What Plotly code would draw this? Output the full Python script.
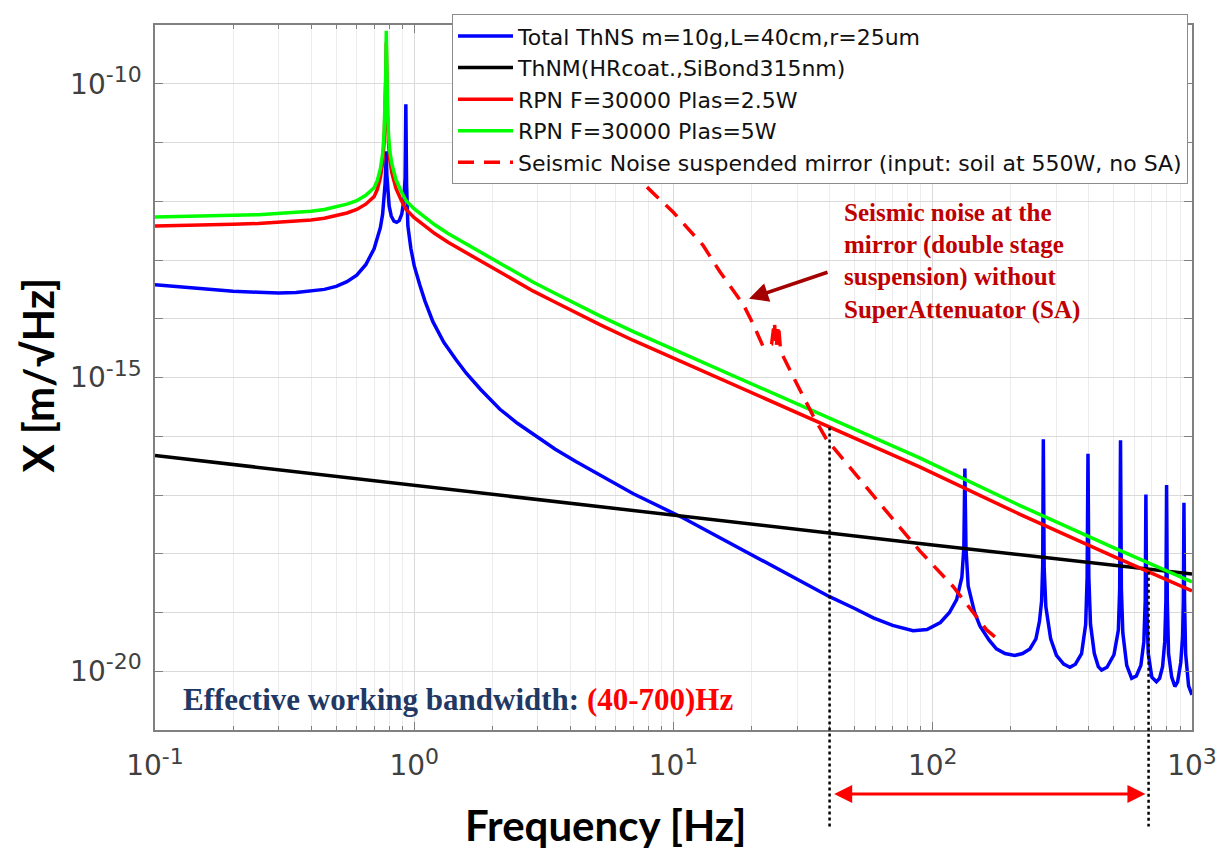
import numpy as np
import plotly.graph_objects as go

# ---------------- data ----------------
freq_total = [0.1, 0.13, 0.16, 0.2, 0.25, 0.3, 0.35, 0.4, 0.45, 0.5, 0.55, 0.6, 0.65, 0.7, 0.72, 0.74,
              0.755, 0.765, 0.772, 0.777, 0.78, 0.784, 0.79, 0.80, 0.815, 0.835, 0.855, 0.875, 0.895,
              0.912, 0.922, 0.928, 0.934, 0.945, 0.97, 1.0, 1.05, 1.1, 1.18, 1.3, 1.45, 1.59, 1.8,
              2.14, 2.5, 2.88, 3.5, 4.2, 5.2, 7, 10.9, 15, 19.7, 28, 40, 50, 59, 70, 84, 95, 107, 116,
              123.6, 129.5, 131.8, 133, 134.3, 137, 145, 152, 165, 176, 190, 207, 222, 237, 250, 258,
              263, 265.5, 267, 269, 273, 285, 300, 320, 338, 355, 375, 389, 394, 397, 400, 406, 420,
              435, 448, 470, 500, 520, 526, 530, 534, 541, 560, 585, 610, 635, 652, 660, 664, 668, 678,
              700, 729, 750, 770, 785, 793, 798, 803, 812, 835, 859, 880, 905, 920, 926, 931, 936, 945,
              970, 1000]
x_total = [3.80e-14, 3.47e-14, 3.16e-14, 2.95e-14, 2.82e-14, 2.75e-14, 2.79e-14, 2.95e-14, 3.16e-14,
           3.55e-14, 4.27e-14, 5.50e-14, 8.32e-14, 1.55e-13, 2.24e-13, 3.55e-13, 6.03e-13, 1.05e-12,
           2.00e-12, 3.98e-12, 7.08e-12, 2.82e-12, 1.41e-12, 8.32e-13, 5.62e-13, 4.57e-13, 4.37e-13,
           4.68e-13, 6.03e-13, 1.05e-12, 2.51e-12, 4.47e-11, 2.00e-12, 3.80e-13, 1.58e-13, 7.94e-14,
           3.80e-14, 2.00e-14, 8.91e-15, 3.98e-15, 2.00e-15, 1.17e-15, 6.31e-16, 2.88e-16, 1.66e-16,
           1.10e-16, 6.03e-17, 3.72e-17, 2.19e-17, 1.05e-17, 4.07e-18, 1.91e-18, 1.00e-18, 4.27e-19,
           1.86e-19, 1.17e-19, 8.13e-20, 6.03e-20, 4.90e-20, 5.13e-20, 6.76e-20, 1.00e-19,
           1.66e-19, 3.98e-19, 1.26e-18, 2.82e-17, 1.26e-18, 2.82e-19, 1.00e-19, 5.89e-20, 3.39e-20,
           2.40e-20, 2.00e-20, 1.86e-20, 2.00e-20, 2.40e-20, 3.55e-20, 7.08e-20,
           1.58e-19, 6.31e-19, 8.91e-17, 5.62e-19, 1.26e-19, 3.55e-20, 1.86e-20, 1.32e-20, 1.17e-20,
           1.32e-20, 2.00e-20, 6.31e-20, 3.98e-19, 5.01e-17, 3.98e-19, 6.31e-20, 2.00e-20,
           1.20e-20, 1.05e-20, 1.17e-20, 1.91e-20, 5.01e-20, 2.51e-19, 8.51e-17, 2.51e-19, 4.47e-20,
           1.26e-20, 7.59e-21, 8.32e-21, 1.26e-20, 3.16e-20, 1.58e-19, 1.02e-17, 1.58e-19, 2.00e-20,
           7.94e-21, 6.61e-21, 7.59e-21, 1.20e-20, 3.16e-20, 1.58e-19, 1.48e-17, 1.58e-19, 2.00e-20,
           7.94e-21, 5.50e-21, 6.61e-21, 1.41e-20, 3.98e-20, 1.58e-19, 7.41e-18, 1.58e-19, 2.00e-20,
           5.62e-21, 3.98e-21]

freq_thnm = [0.1, 1, 10, 100, 1000]
x_thnm = [4.7e-17, 1.45e-17, 4.6e-18, 1.41e-18, 4.5e-19]

freq_rpn = [0.1, 0.15, 0.2, 0.25, 0.3, 0.35, 0.4, 0.45, 0.5, 0.55, 0.6, 0.65, 0.7, 0.72, 0.74, 0.755,
            0.765, 0.772, 0.777, 0.78, 0.783, 0.788, 0.795, 0.805, 0.82, 0.85, 0.89, 0.93, 1.0, 1.1,
            1.2, 1.35, 1.59, 1.8, 2.14, 2.5, 2.88, 3.5, 4.2, 5.2, 7, 9.4, 14, 20, 40, 89, 217, 500, 1000]
x_rpn_25 = [3.80e-13, 3.89e-13, 4.07e-13, 4.17e-13, 4.37e-13, 4.57e-13, 4.79e-13, 5.13e-13, 5.62e-13,
            6.31e-13, 7.24e-13, 8.91e-13, 1.20e-12, 1.58e-12, 2.51e-12, 4.47e-12, 1.00e-11, 3.16e-11,
            1.26e-10, 5.01e-10, 1.26e-10, 3.16e-11, 1.00e-11, 5.01e-12, 3.02e-12, 1.66e-12, 1.05e-12,
            7.24e-13, 5.25e-13, 3.72e-13, 2.82e-13, 2.00e-13, 1.32e-13, 9.55e-14, 6.31e-14, 4.17e-14,
            2.95e-14, 1.91e-14, 1.26e-14, 7.94e-15, 4.27e-15, 2.40e-15, 1.10e-15, 5.62e-16, 1.41e-16,
            3.02e-17, 4.68e-18, 8.91e-19, 2.34e-19]
x_rpn_5 = [5.37e-13, 5.50e-13, 5.75e-13, 5.89e-13, 6.17e-13, 6.46e-13, 6.76e-13, 7.24e-13, 7.94e-13,
           8.91e-13, 1.02e-12, 1.26e-12, 1.70e-12, 2.24e-12, 3.55e-12, 6.31e-12, 1.41e-11, 4.47e-11,
           1.78e-10, 7.94e-10, 1.78e-10, 4.47e-11, 1.41e-11, 7.08e-12, 4.27e-12, 2.34e-12, 1.48e-12,
           1.02e-12, 7.41e-13, 5.25e-13, 3.98e-13, 2.82e-13, 1.86e-13, 1.35e-13, 8.91e-14, 5.89e-14,
           4.17e-14, 2.69e-14, 1.78e-14, 1.12e-14, 6.03e-15, 3.39e-15, 1.55e-15, 7.94e-16, 2.00e-16,
           4.27e-17, 6.61e-18, 1.26e-18, 3.31e-19]

freq_seis = [7.9, 8.11, 9.98, 13.0, 15.1, 18.6, 20.3, 22.2, 23.9, 24.5, 24.9, 25.4, 25.9, 29.0,
             31.6, 34.6, 38.9, 49.3, 66.4, 89.1, 120, 161, 184]
x_seis = [1.74e-12, 1.55e-12, 6.5e-13, 1.78e-13, 6.3e-14, 1.74e-14, 8.1e-15, 3.3e-15, 3.7e-15,
          8.9e-15, 3.2e-15, 7.9e-15, 2.8e-15, 1.02e-15, 4.8e-16, 2.2e-16, 8.9e-17, 2.5e-17,
          5.2e-18, 1.12e-18, 2.75e-19, 5.1e-20, 3.1e-20]

names = ["Total ThNS m=10g,L=40cm,r=25um", "ThNM(HRcoat.,SiBond315nm)",
         "RPN F=30000 Plas=2.5W", "RPN F=30000 Plas=5W",
         "Seismic Noise suspended mirror (input: soil at 550W, no SA)"]

band_lo, band_hi = 40, 680

xtick_vals = [0.1, 1, 10, 100, 1000]
xtick_exp = ["-1", "0", "1", "2", "3"]
ytick_vals = [1e-20, 1e-15, 1e-10]
ytick_exp = ["-20", "-15", "-10"]

# ---------------- figure ----------------
# page body has an 8px margin, so the figure is placed at (8, 8) in the window
W, H = 1221, 845
L_, R_, T_, B_ = 147, 37, 6, 123
PW, PH = W - L_ - R_, H - T_ - B_


def px(xs):  # window pixel -> paper
    return (xs - 8 - L_) / PW


def py(ys):
    return (H - B_ - (ys - 8)) / PH


YMIN, YMAX = -21, -9


def ylog_to_paper(v):
    return (np.log10(v) - YMIN) / (YMAX - YMIN)


def xlog_to_paper(f):
    return (np.log10(f) + 1) / 4


def sup_label(e, size):
    return "10<sup><span style='font-size:%dpx'>%s</span></sup>" % (size, e)


fig = go.Figure()
fig.add_trace(go.Scatter(x=freq_total, y=x_total, mode="lines", name=names[0],
                         line=dict(color="#0000FF", width=3.5)))
fig.add_trace(go.Scatter(x=freq_thnm, y=x_thnm, mode="lines", name=names[1],
                         line=dict(color="#000000", width=3.5)))
fig.add_trace(go.Scatter(x=freq_rpn, y=x_rpn_25, mode="lines", name=names[2],
                         line=dict(color="#FF0000", width=3.5)))
fig.add_trace(go.Scatter(x=freq_rpn, y=x_rpn_5, mode="lines", name=names[3],
                         line=dict(color="#00FF00", width=3.5)))
fig.add_trace(go.Scatter(x=freq_seis, y=x_seis, mode="lines", name=names[4],
                         line=dict(color="#FF0000", width=3.5, dash="16px,10px")))

tickfont = dict(family="DejaVu Sans, Liberation Sans", size=28, color="#404040")
axcol = "#808080"

xminor = [m * 10.0 ** e for e in range(-1, 3) for m in range(2, 10)]
yminor = [10.0 ** e for e in range(-21, -8) if e not in (-20, -15, -10)]

fig.update_xaxes(type="log", range=[-1, 3], tickmode="array", tickvals=xtick_vals,
                 ticktext=[sup_label(e, 22) for e in xtick_exp],
                 ticks="inside", ticklen=8, tickwidth=1, tickcolor=axcol, showline=True, linecolor=axcol,
                 linewidth=1.5, mirror="allticks", showgrid=True, gridcolor="#dadada", gridwidth=1,
                 zeroline=False, tickfont=tickfont, ticklabelstandoff=10,
                 minor=dict(tickmode="array", tickvals=xminor, ticks="inside", ticklen=4,
                            tickcolor=axcol, showgrid=True, gridcolor="#ececec", gridwidth=1))
fig.update_yaxes(type="log", range=[YMIN, YMAX], tickmode="array", tickvals=ytick_vals,
                 ticktext=[sup_label(e, 22) for e in ytick_exp],
                 ticks="inside", ticklen=8, tickwidth=1, tickcolor=axcol, showline=True, linecolor=axcol,
                 linewidth=1.5, mirror="allticks", showgrid=True, gridcolor="#dadada", gridwidth=1,
                 zeroline=False, tickfont=tickfont, ticklabelstandoff=6,
                 minor=dict(tickmode="array", tickvals=yminor, ticks="inside", ticklen=8,
                            tickcolor=axcol, showgrid=True, gridcolor="#dadada", gridwidth=1))

# dotted band limits, tops taken from the RPN 2.5 W curve
lf = np.log10(freq_rpn)
lv = np.log10(x_rpn_25)
top_lo = 10 ** np.interp(np.log10(band_lo), lf, lv)
top_hi = 10 ** np.interp(np.log10(band_hi), lf, lv)
for f, top in ((band_lo, top_lo), (band_hi, top_hi)):
    fig.add_shape(type="line", xref="paper", yref="paper", x0=xlog_to_paper(f), x1=xlog_to_paper(f),
                  y0=ylog_to_paper(top), y1=py(828), line=dict(color="black", width=2.5, dash="dot"))

annotations = []
# double arrow for band
annotations.append(dict(xref="paper", yref="paper", x=xlog_to_paper(band_hi) - 0.003, y=py(795), text="",
                        showarrow=True, axref="pixel", ayref="pixel",
                        ax=-(xlog_to_paper(band_hi) - xlog_to_paper(band_lo) - 0.006) * PW, ay=0,
                        arrowside="end+start", arrowhead=2, arrowsize=1.2, arrowwidth=3, arrowcolor="#FF0000"))
# seismic arrow
annotations.append(dict(xref="paper", yref="paper", x=px(749), y=py(292), text="", showarrow=True,
                        ax=80, ay=-27, arrowhead=2, arrowsize=1.1, arrowwidth=3.5, arrowcolor="#A50000"))
seis_lines = ["Seismic noise at the", "mirror (double stage", "suspension) without", "SuperAttenuator (SA)"]
for i, t in enumerate(seis_lines):
    annotations.append(dict(xref="paper", yref="paper", x=px(842), y=py(204 + 33 * i), text="<b>" + t + "</b>",
                            showarrow=False, xanchor="left", yanchor="middle",
                            font=dict(family="Liberation Serif, Times New Roman", size=25, color="#C00000")))
annotations.append(dict(xref="paper", yref="paper", x=px(181), y=py(699),
                        text="<b>Effective working bandwidth: <span style='color:#FF0000'>(40-700)Hz</span></b>",
                        showarrow=False, xanchor="left", yanchor="middle",
                        font=dict(family="Liberation Serif, Times New Roman", size=31, color="#1F3864")))
# axis titles
annotations.append(dict(xref="paper", yref="paper", x=px(605), y=py(826), text="<b>Frequency [Hz]</b>",
                        showarrow=False, xanchor="center", yanchor="middle",
                        font=dict(family="Lato, Open Sans", size=42, color="black")))
annotations.append(dict(xref="paper", yref="paper", x=px(38), y=py(370), text="<b>X [m/√Hz]</b>",
                        showarrow=False, xanchor="center", yanchor="middle", textangle=-90,
                        font=dict(family="Lato, Open Sans", size=42, color="black")))

fig.update_layout(
    width=W, height=H, margin=dict(l=L_, r=R_, t=T_, b=B_),
    plot_bgcolor="white", paper_bgcolor="white", showlegend=True,
    legend=dict(x=px(452), y=py(3), xanchor="left", yanchor="top", bgcolor="white",
                bordercolor="#8c8c8c", borderwidth=1, itemwidth=55, tracegroupgap=0,
                font=dict(family="DejaVu Sans, Liberation Sans", size=22, color="#111111")),
    annotations=annotations,
)

fig.write_html("out.html")
